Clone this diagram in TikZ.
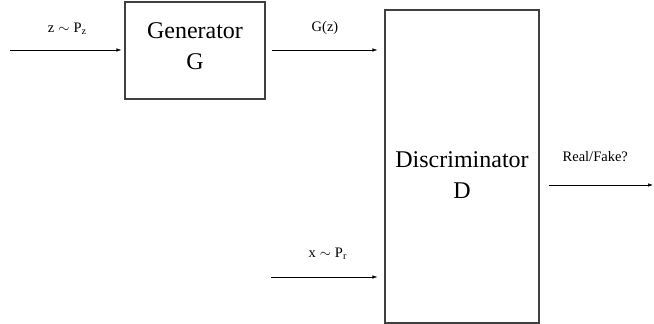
\documentclass[tikz,border=0pt]{standalone}
\usepackage{fontspec}
\setmainfont{Liberation Serif}
\newfontfamily\ganfont{Liberation Serif}
\usetikzlibrary{arrows.meta}
\newcommand{\tl}{\hspace{4pt}$\sim$\hspace{4pt}}
\begin{document}
\begin{tikzpicture}[
    x=1pt, y=-1pt,
    block/.style={draw=black!75, line width=1.1pt, align=center, inner sep=0pt, font=\ganfont\fontsize{24}{31}\selectfont},
    flow/.style={-{Latex[length=5pt,width=3.5pt]}, line width=0.6pt},
    lbl/.style={font=\ganfont\fontsize{14.5}{16}\selectfont, midway},
]
\useasboundingbox (0,0) rectangle (654,324);

\node[block, minimum width=140pt, minimum height=97pt] (gen) at (195,50.5) {Generator\\ G\\[-23pt]};
\node[block, minimum width=154pt, minimum height=313pt] (disc) at (462,166.5) {\\[2pt]Discriminator\\ D};

\coordinate (zin) at (10,50);
\coordinate (xin) at (271,277);
\coordinate (out) at (653,185);

\draw[flow, shorten >=3pt] (zin) -- node[lbl, above=12pt]{z\tl P\textsubscript{z}} (gen.west |- zin);
\draw[flow, shorten <=6pt, shorten >=7pt] (gen.east |- zin) -- node[lbl, above=12pt]{G(z)} (disc.west |- zin);
\draw[flow, shorten >=7pt] (xin) -- node[lbl, above=14pt]{x\tl P\textsubscript{r}} (disc.west |- xin);

% output of the discriminator
\draw[flow, shorten <=9pt] (disc.east |- out) -- node[lbl, above=20pt, xshift=-1pt]{Real/Fake?} (out);
\end{tikzpicture}
\end{document}
